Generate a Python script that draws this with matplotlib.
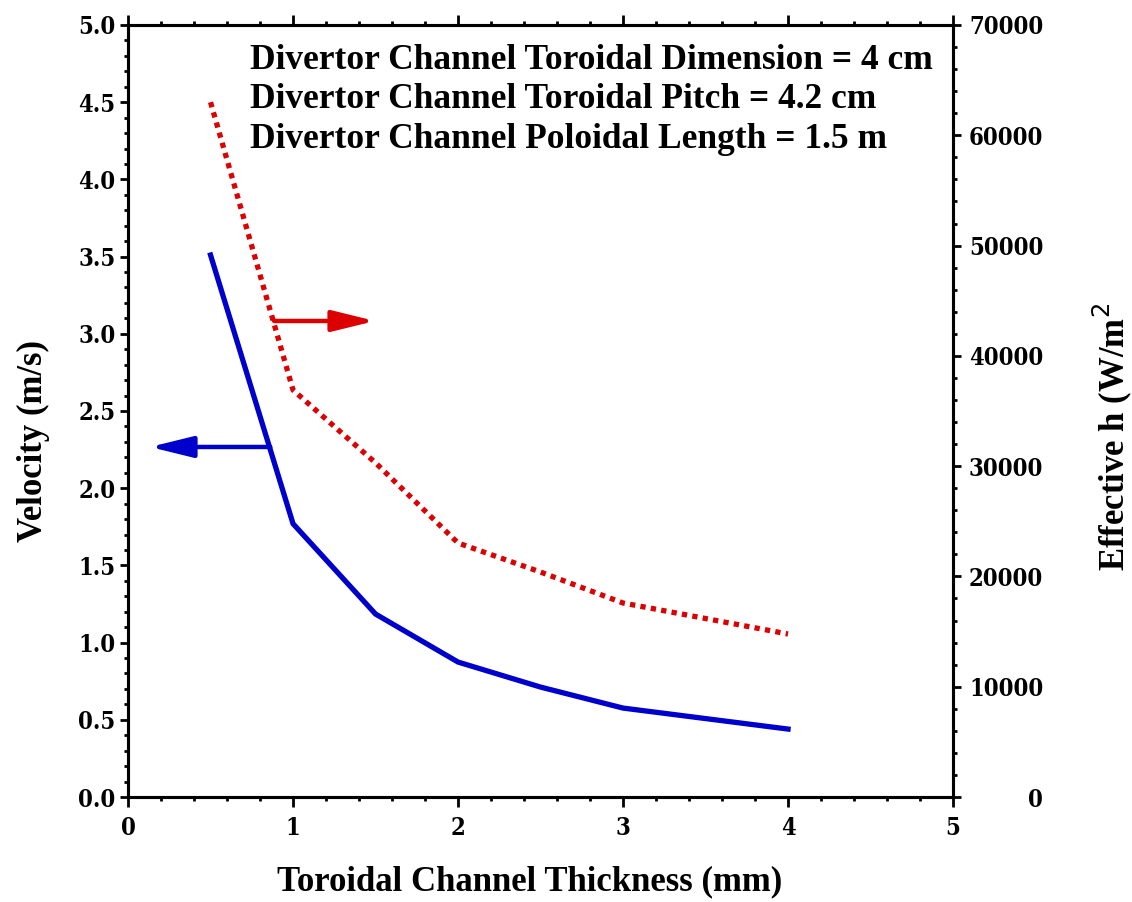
import matplotlib.pyplot as plt
from matplotlib.ticker import MultipleLocator

thickness = [0.5, 1.0, 1.5, 2.0, 2.5, 3.0, 4.0]
velocity = [3.51, 1.77, 1.185, 0.874, 0.712, 0.576, 0.44]
heff = [63000, 36900, 30300, 23030, 20400, 17590, 14780]

notes = ["Divertor Channel Toroidal Dimension = 4 cm",
         "Divertor Channel Toroidal Pitch = 4.2 cm",
         "Divertor Channel Poloidal Length = 1.5 m"]

blue = "#0000cc"
red = "#dd0000"
lab_font = dict(family="Liberation Serif", weight="bold", size=25)
tick_font = dict(family="DejaVu Serif", weight="bold", stretch="condensed", size=17)

fig = plt.figure(figsize=(11.32, 9.02), dpi=100)
ax = fig.add_axes([0.1131, 0.1164, 0.7288, 0.8559])
ax2 = ax.twinx()

ax.plot(thickness, velocity, color=blue, lw=3.8, solid_joinstyle="miter")
ax2.plot(thickness, heff, color=red, lw=3.8, linestyle=(0, (1, 1)),
         dash_capstyle="butt")

ax.set_xlim(0, 5)
ax.set_ylim(0, 5)
ax2.set_ylim(0, 70000)

ax.xaxis.set_major_locator(MultipleLocator(1))
ax.xaxis.set_minor_locator(MultipleLocator(0.2))
ax.yaxis.set_major_locator(MultipleLocator(0.5))
ax.yaxis.set_minor_locator(MultipleLocator(0.1))
ax2.yaxis.set_major_locator(MultipleLocator(10000))
ax2.yaxis.set_minor_locator(MultipleLocator(2000))
ax.yaxis.set_major_formatter(lambda v, p: f"{v:.1f}")

for a in (ax, ax2):
    for s in a.spines.values():
        s.set_linewidth(2.2)

ax.tick_params(which="both", direction="out", top=True, right=False, width=2)
ax.tick_params(which="major", length=6)
ax.tick_params(which="minor", length=3)
ax.tick_params(axis="x", which="major", length=7, pad=7)
ax.tick_params(axis="y", which="major", pad=3)
ax2.tick_params(which="both", direction="out", width=2)
ax2.tick_params(which="major", length=6, pad=59)
ax2.tick_params(which="minor", length=3)

for lab in ax.get_xticklabels() + ax.get_yticklabels():
    lab.set(**tick_font)
for lab in ax2.get_yticklabels():
    lab.set(**tick_font)
    lab.set_horizontalalignment("right")

ax.set_xlabel("Toroidal Channel Thickness (mm)", **lab_font)
ax.set_ylabel("Velocity (m/s)", **lab_font)
ax2.set_ylabel("Effective h (W/m$^2$", **lab_font)
ax.xaxis.set_label_coords(0.487, -0.088)
ax.yaxis.set_label_coords(-0.094, 0.461)
ax2.yaxis.set_label_coords(1.166, 0.466)

ax.text(0.148, 0.976, "\n".join(notes), transform=ax.transAxes,
        ha="left", va="top", linespacing=1.27, fontsize=25.5,
        family="Liberation Serif", weight="bold")

# direction arrows pointing at each curve's axis
arrow = "-|>,head_length=1.3,head_width=0.32"
ax.annotate("", xy=(1.497, 3.083), xytext=(0.885, 3.083),
            arrowprops=dict(arrowstyle=arrow, color=red, lw=3.2,
                            shrinkA=0, shrinkB=0, mutation_scale=20))
ax.annotate("", xy=(0.133, 2.267), xytext=(0.862, 2.267),
            arrowprops=dict(arrowstyle=arrow, color=blue, lw=3.2,
                            shrinkA=0, shrinkB=0, mutation_scale=20))

fig.savefig("out.png", dpi=100)
